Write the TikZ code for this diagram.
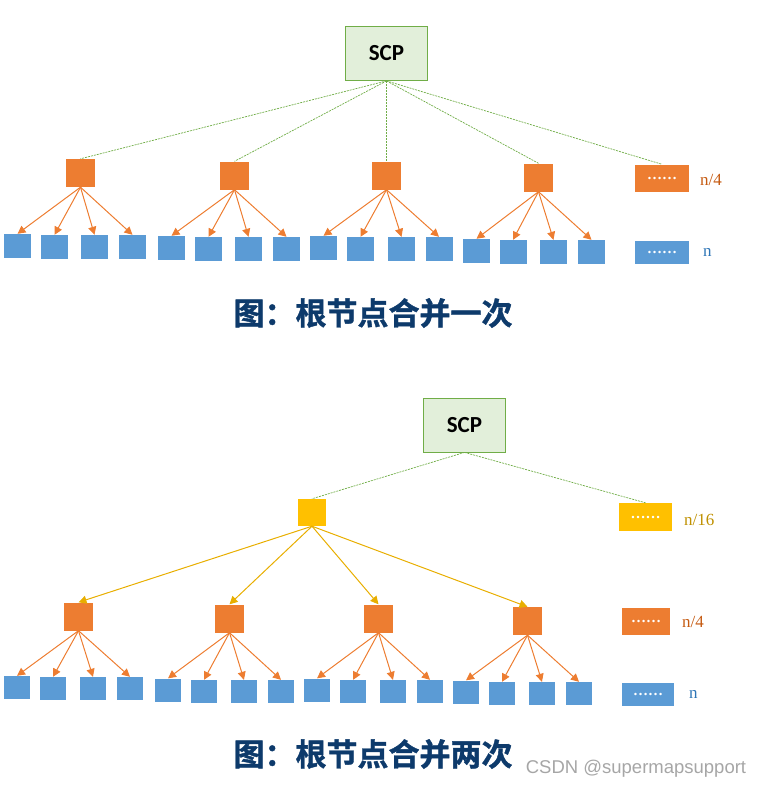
\documentclass[tikz,border=0pt]{standalone}
\usepackage{fontspec}
\setmainfont{Liberation Serif}
\newfontfamily\cjkbold[FakeBold=1.2]{Noto Sans CJK SC Bold}
\newfontfamily\carlito{Carlito}
\newfontfamily\wmfont{Liberation Sans}
\usetikzlibrary{arrows.meta}
\definecolor{scpfill}{HTML}{E2EFDA}
\definecolor{scpline}{HTML}{70AD47}
\definecolor{orangeC}{HTML}{ED7D31}
\definecolor{blueC}{HTML}{5B9BD5}
\definecolor{yellowC}{HTML}{FFC000}
\definecolor{yarrow}{HTML}{E8AE00}
\definecolor{titleC}{HTML}{0D3A6B}
\definecolor{lblOrange}{HTML}{C55A11}
\definecolor{lblYellow}{HTML}{BF9000}
\definecolor{lblBlue}{HTML}{2E75B6}
\definecolor{wmC}{HTML}{A6A6A6}
\tikzset{
  scpbox/.style={draw=scpline, line width=0.8pt, fill=scpfill, minimum width=82pt, minimum height=54pt, inner sep=0pt, font=\carlito\bfseries\fontsize{23}{23}\selectfont},
  obox/.style={fill=orangeC, minimum width=29pt, minimum height=28pt, inner sep=0pt},
  bbox/.style={fill=blueC, minimum width=27pt, minimum height=24pt, inner sep=0pt},
  ybox/.style={fill=yellowC, minimum width=28pt, minimum height=27pt, inner sep=0pt},
  dotbox/.style={minimum width=54pt, minimum height=27pt, inner sep=0pt, text=white, font=\bfseries\fontsize{15}{15}\selectfont},
  lbl/.style={anchor=west, inner sep=0pt, font=\fontsize{17}{17}\selectfont},
  gdash/.style={draw=scpline, line width=0.7pt, dash pattern=on 2pt off 1pt},
  oarrow/.style={draw=orangeC, line width=1pt, -{Triangle[length=8pt,width=8pt]}},
  yarr/.style={draw=yarrow, line width=1pt, -{Triangle[length=8pt,width=8pt]}},
  titletext/.style={text=titleC, font=\cjkbold\fontsize{31}{31}\selectfont, inner sep=0pt}
}
\begin{document}
\begin{tikzpicture}[x=1pt,y=-1pt]
\useasboundingbox (0,0) rectangle (765,789);
% ---------------- top diagram ----------------
\node[scpbox] (scpA) at (386.5,53.5) {SCP};
\node[obox] (oA1) at (80.5,173) {};
\node[obox] (oA2) at (234.5,175.5) {};
\node[obox] (oA3) at (386.5,175.5) {};
\node[obox] (oA4) at (538.5,177.5) {};
\node[dotbox, fill=orangeC] (dA) at (662,178) {……};
\node[lbl, text=lblOrange] (lA4) at (700,180) {n/4};
\node[dotbox, fill=blueC, minimum height=23pt] (dAb) at (662,252.5) {……};
\node[lbl, text=lblBlue] (lAn) at (703,252) {n};
\foreach \i/\x/\y in {1/17.5/246,2/54.5/247,3/94.5/247,4/132.5/247,5/171.5/248,6/208.5/249,7/248.5/249,8/286.5/249,9/323.5/248,10/360.5/249,11/401.5/249,12/439/249,13/476.5/251,14/513/252,15/553.5/252,16/591.5/252}
  \node[bbox] (bA\i) at (\x,\y) {};
\foreach \t in {oA1,oA2,oA3,oA4,dA}
  \draw[gdash] (scpA.south) -- (\t.north);
\foreach \o [count=\k from 0] in {oA1,oA2,oA3,oA4}
  \foreach \j in {1,2,3,4}{
    \pgfmathtruncatemacro{\b}{4*\k+\j}
    \draw[oarrow] (\o.south) -- (bA\b.north);
  }
\node[titletext] (tA) at (373,313) {图：根节点合并一次};
% ---------------- bottom diagram ----------------
\node[scpbox] (scpB) at (464.5,425) {SCP};
\node[ybox] (yB) at (312,512.5) {};
\node[dotbox, fill=yellowC, minimum width=53pt, minimum height=28pt] (dBy) at (645.5,517) {……};
\node[lbl, text=lblYellow] (lB16) at (684,520) {n/16};
\node[obox] (oB1) at (78.5,616.5) {};
\node[obox] (oB2) at (229.5,618.5) {};
\node[obox] (oB3) at (378.5,618.5) {};
\node[obox] (oB4) at (527.5,621) {};
\node[dotbox, fill=orangeC, minimum width=48pt, minimum height=27pt] (dBo) at (646,621.5) {……};
\node[lbl, text=lblOrange] (lB4) at (682,622) {n/4};
\node[dotbox, fill=blueC, minimum width=52pt, minimum height=23pt] (dBb) at (648,694.5) {……};
\node[lbl, text=lblBlue] (lBn) at (689,694) {n};
\foreach \i/\x/\y in {1/17/687.5,2/53/688.5,3/93/688.5,4/130/688.5,5/168/690,6/204/691.5,7/244/691.5,8/281/691.5,9/317/690,10/353/691.5,11/393/691.5,12/430/691.5,13/466/692,14/502/693.5,15/542/693.5,16/579/693.5}
  \node[bbox, minimum width=26pt, minimum height=23pt] (bB\i) at (\x,\y) {};
\draw[gdash] (scpB.south) -- (yB.north);
\draw[gdash] (scpB.south) -- (dBy.north);
\foreach \t in {oB1,oB2,oB3,oB4}
  \draw[yarr] (yB.south) -- (\t.north);
\foreach \o [count=\k from 0] in {oB1,oB2,oB3,oB4}
  \foreach \j in {1,2,3,4}{
    \pgfmathtruncatemacro{\b}{4*\k+\j}
    \draw[oarrow] (\o.south) -- (bB\b.north);
  }
\node[titletext] (tB) at (373,754) {图：根节点合并两次};
\node[text=wmC, font=\wmfont\fontsize{18.5}{18.5}\selectfont, inner sep=0pt] (wm) at (636,769) {CSDN @supermapsupport};
\end{tikzpicture}
\end{document}
